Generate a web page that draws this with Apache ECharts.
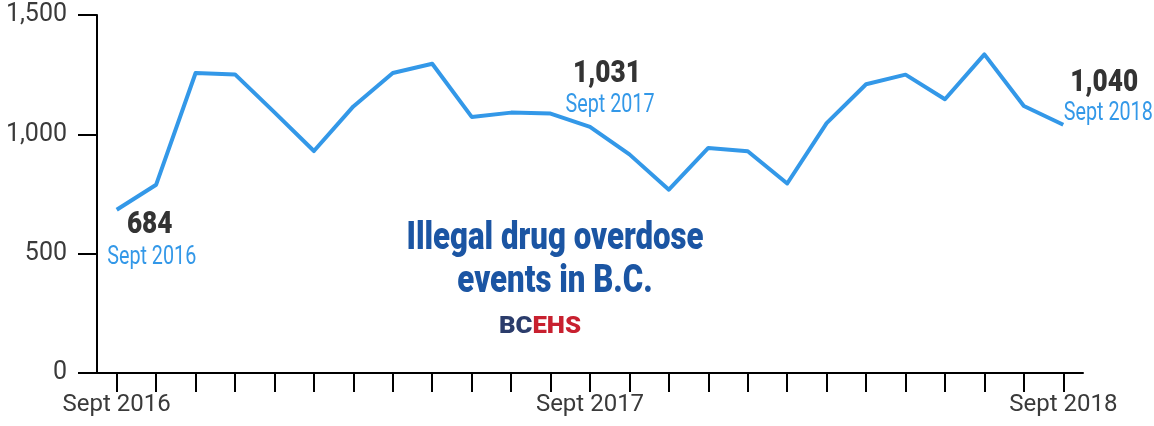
<!DOCTYPE html>
<html>
<head>
<meta charset="utf-8">
<script src="https://cdn.jsdelivr.net/npm/echarts@6/dist/echarts.min.js"></script>
<style>
html,body{margin:0;padding:0;background:#fff;}
#chart{width:1154px;height:426px;}
</style>
</head>
<body>
<div id="chart"></div>
<script>
// ---- data ----
const months = [
  'Sept 2016','Oct 2016','Nov 2016','Dec 2016','Jan 2017','Feb 2017','Mar 2017','Apr 2017',
  'May 2017','Jun 2017','Jul 2017','Aug 2017','Sept 2017','Oct 2017','Nov 2017','Dec 2017',
  'Jan 2018','Feb 2018','Mar 2018','Apr 2018','May 2018','Jun 2018','Jul 2018','Aug 2018','Sept 2018'
];
const overdoseEvents = [
  684, 789, 1257, 1251, 1092, 930, 1117, 1257,
  1296, 1073, 1091, 1087, 1031, 916, 768, 943,
  929, 794, 1047, 1210, 1250, 1147, 1335, 1119, 1040
];
const labelledMonths = ['Sept 2016', 'Sept 2017', 'Sept 2018'];
const yTicks = [0, 500, 1000, 1500];
const titleLines = ['Illegal drug overdose', 'events in B.C.'];
const callouts = [
  {index: 0,  value: '684',   date: 'Sept 2016', dxV: 33, dyV: 15,  dxD: 35, dyD: 48},
  {index: 12, value: '1,031', date: 'Sept 2017', dxV: 17, dyV: -53, dxD: 20, dyD: -21},
  {index: 24, value: '1,040', date: 'Sept 2018', dxV: 41, dyV: -42, dxD: 45, dyD: -11}
];

const LINE_BLUE = '#3398e8';
const TEXT_GREY = '#3a3a3a';

const chart = echarts.init(document.getElementById('chart'), null, {renderer: 'canvas'});

const option = {
  animation: false,
  backgroundColor: '#ffffff',
  grid: {left: 97, right: 71, top: 15, bottom: 53, containLabel: false},
  xAxis: {
    type: 'category',
    data: months,
    boundaryGap: true,
    axisLine: {lineStyle: {color: '#000', width: 2}},
    axisTick: {show: true, alignWithLabel: true, interval: 0, length: 19, lineStyle: {color: '#000', width: 2}},
    axisLabel: {
      interval: 0,
      margin: 20,
      fontFamily: 'Roboto',
      fontSize: 24,
      color: TEXT_GREY,
      formatter: function (v) { return labelledMonths.indexOf(v) >= 0 ? v : ''; }
    },
    splitLine: {show: false}
  },
  yAxis: {
    type: 'value',
    min: yTicks[0],
    max: yTicks[yTicks.length - 1],
    interval: yTicks[1] - yTicks[0],
    axisLine: {show: true, lineStyle: {color: '#000', width: 2}},
    axisTick: {show: true, length: 19, lineStyle: {color: '#000', width: 2}},
    axisLabel: {
      margin: 30,
      fontFamily: 'Roboto',
      fontSize: 25,
      color: TEXT_GREY,
      formatter: function (v) { return v.toLocaleString('en-US'); }
    },
    splitLine: {show: false}
  },
  series: [{
    type: 'line',
    data: overdoseEvents,
    symbol: 'none',
    lineStyle: {color: LINE_BLUE, width: 4, join: 'round'},
    z: 3
  }]
};
chart.setOption(option);

// ---- annotations anchored to data points ----
const graphics = [];
callouts.forEach(function (c) {
  const p = chart.convertToPixel({seriesIndex: 0}, [c.index, overdoseEvents[c.index]]);
  graphics.push({
    type: 'text', x: p[0] + c.dxV, y: p[1] + c.dyV, scaleX: 0.82, z: 10,
    style: {text: c.value, fill: '#333333', font: '900 32px Roboto', align: 'center', verticalAlign: 'middle'}
  });
  graphics.push({
    type: 'text', x: p[0] + c.dxD, y: p[1] + c.dyD, scaleX: 0.76, z: 10,
    style: {text: c.date, fill: LINE_BLUE, font: '26px Roboto', align: 'center', verticalAlign: 'middle'}
  });
});
// title
titleLines.forEach(function (t, i) {
  graphics.push({
    type: 'text', x: 555, y: 239 + i * 43, scaleX: 0.8, z: 10,
    style: {text: t, fill: '#1b55a3', font: '900 39px Roboto', align: 'center', verticalAlign: 'middle'}
  });
});
// logo
graphics.push({
  type: 'text', x: 540, y: 327, scaleX: 1.12, z: 10,
  style: {
    text: '{a|BC}{b|EHS}', align: 'center', verticalAlign: 'middle',
    rich: {
      a: {fill: '#2b3c6b', fontWeight: 900, fontSize: 23, fontFamily: 'Roboto'},
      b: {fill: '#c8202f', fontWeight: 900, fontSize: 23, fontFamily: 'Roboto'}
    }
  }
});
chart.setOption({graphic: graphics});
</script>
</body>
</html>
